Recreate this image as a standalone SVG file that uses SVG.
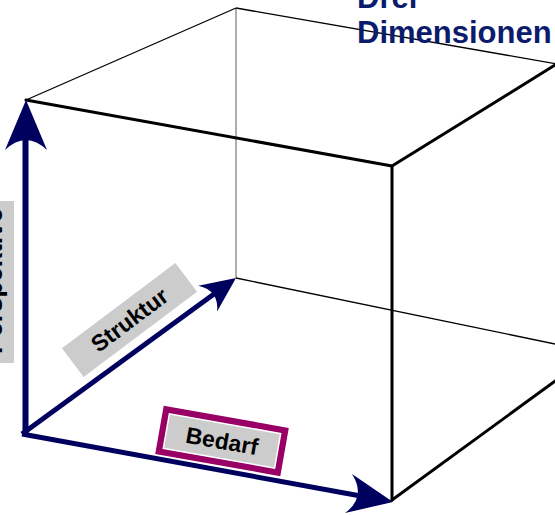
<svg xmlns="http://www.w3.org/2000/svg" width="555" height="515" viewBox="0 0 555 515">
<style>
.thick{stroke:#000;stroke-width:3;fill:none;stroke-linecap:round}
.thin{stroke:#000;stroke-width:1.3;fill:none}
.back{stroke:#777;stroke-width:1.2;fill:none}
.axis{stroke:#00005e;fill:none}
.head{fill:#00005e}
.lbl{font-family:"Liberation Sans",Arial,sans-serif;font-weight:bold;fill:#000;text-anchor:middle}
.title{font-family:"Liberation Sans",Arial,sans-serif;font-weight:bold;fill:#0c1c6c;font-size:31px}
</style>
<rect width="555" height="515" fill="#fff"/>
<g id="cube">
<line class="back" x1="236" y1="8" x2="236" y2="278"/>
<line class="thin" x1="236" y1="278" x2="560" y2="345"/>
<line class="thin" x1="26" y1="100" x2="236" y2="8"/>
<line class="thin" x1="236" y1="8" x2="560" y2="64.5"/>
<line class="thick" x1="26" y1="100" x2="392" y2="166"/>
<line class="thick" x1="392" y1="166" x2="392" y2="500"/>
<line class="thick" x1="392" y1="166" x2="560" y2="62"/>
<line class="thick" x1="392" y1="500" x2="606" y2="344"/>
</g>
<g id="connectors">
<line class="axis" stroke-width="6" x1="25.5" y1="436" x2="25.5" y2="140"/>
<path class="head" d="M26,100 L47,150 Q26,130 5,150 Z"/>
<line class="axis" stroke-width="5" x1="22" y1="434" x2="358" y2="495.5"/>
<path class="head" d="M393,502 L352,474 Q366.7,497.3 345,513 Z"/>
<line class="axis" stroke-width="5" x1="22" y1="434" x2="214" y2="294"/>
<path class="head" d="M236,278 L217.1,311.5 Q219.1,290.4 198.3,285.7 Z"/>
</g>
<g id="perspektive">
<rect x="-20" y="201" width="34" height="162" fill="#ccc"/>
<text class="lbl" font-size="26" transform="translate(2,281) rotate(-90)">Perspektive</text>
</g>
<g id="struktur" transform="translate(129.5,320) rotate(-37)">
<rect x="-71" y="-18" width="142" height="36" fill="#ccc"/>
<text class="lbl" font-size="23" y="8">Struktur</text>
</g>
<g id="bedarf" transform="translate(222,441) rotate(10)">
<rect x="-63.5" y="-24.5" width="127" height="49" fill="#990066"/>
<rect x="-56.5" y="-17.5" width="113" height="35" fill="#ccc" stroke="#fff" stroke-width="1.5"/>
<text class="lbl" font-size="23" y="8">Bedarf</text>
</g>
<g id="title">
<text class="title" x="357" y="8">Drei</text>
<text class="title" x="357" y="43">Dimensionen</text>
</g>
</svg>
